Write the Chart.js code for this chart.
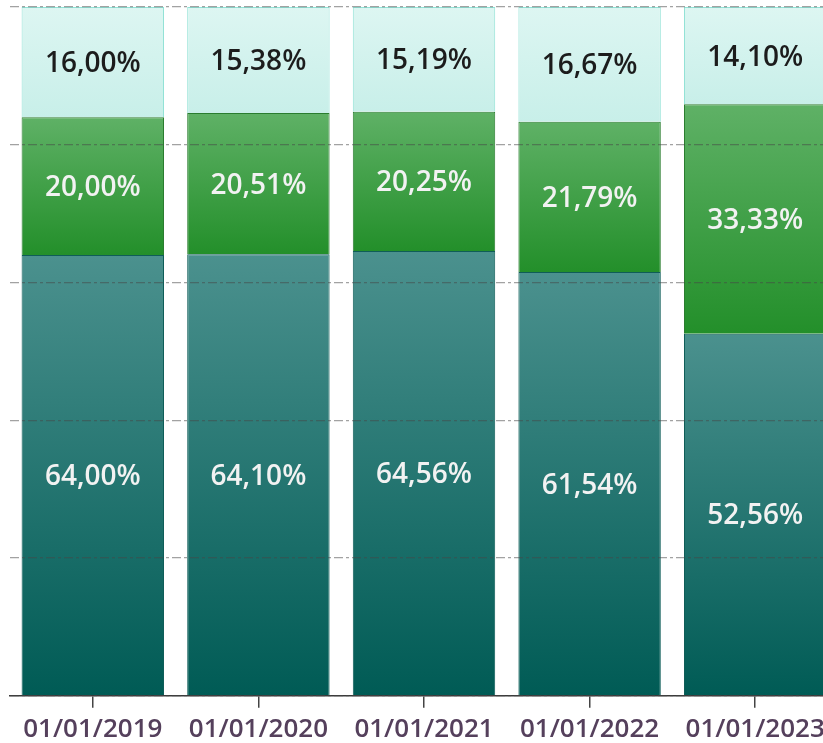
<!DOCTYPE html>
<html>
<head>
<meta charset="utf-8">
<script src="https://cdn.jsdelivr.net/npm/chart.js@4"></script>
<style>
  html, body { margin: 0; padding: 0; background: #fff; overflow: hidden; }
  #wrap { width: 838px; height: 751px; position: relative; }
</style>
</head>
<body>
<div id="wrap"><canvas id="myChart"></canvas></div>
<script>
// datos
const fechas = ['01/01/2019', '01/01/2020', '01/01/2021', '01/01/2022', '01/01/2023']
const serieBase = [64.00, 64.10, 64.56, 61.54, 52.56]
const serieMedia = [20.00, 20.51, 20.25, 21.79, 33.33]
const serieAlta = [16.00, 15.38, 15.19, 16.67, 14.10]
const series = [serieBase, serieMedia, serieAlta]

// colores de cada tramo: arriba / abajo
const colores = [
    { top: '#4b918e', bottom: '#005b55', border: '#0f5d58', text: '#f2f2f2' },
    { top: '#5fb166', bottom: '#238f2a', border: '#2a7d2f', text: '#f2f2f2' },
    { top: '#ddf6f2', bottom: '#c8efe9', border: '#92e2d6', text: '#1c1c1c' }
]

function gradiente(ctx) {
    const col = colores[ctx.datasetIndex]
    const chart = ctx.chart
    if (ctx.type !== 'data' || !chart.chartArea) return col.top
    let base = 0
    for (let k = 0; k < ctx.datasetIndex; k++) base += series[k][ctx.dataIndex]
    const tope = base + series[ctx.datasetIndex][ctx.dataIndex]
    const y0 = chart.scales.y.getPixelForValue(tope)
    const y1 = chart.scales.y.getPixelForValue(base)
    const g = chart.ctx.createLinearGradient(0, y0, 0, y1)
    g.addColorStop(0, col.top)
    g.addColorStop(1, col.bottom)
    return g
}

// etiquetas dentro de cada tramo
const etiquetas = {
    id: 'etiquetas',
    afterDraw(chart) {
        const c = chart.ctx
        c.save()
        c.font = '600 28px "Open Sans"'
        c.textAlign = 'center'
        c.textBaseline = 'middle'
        chart.data.datasets.forEach((ds, i) => {
            chart.getDatasetMeta(i).data.forEach((bar, j) => {
                const y = (bar.y + bar.base) / 2
                c.fillStyle = colores[i].text
                c.fillText(series[i][j].toFixed(2).replace('.', ',') + '%', bar.x, y + 2)
            })
        })
        c.restore()
    }
}

const datasets = series.map((s, i) => ({
    label: 'serie' + (i + 1),
    data: s,
    backgroundColor: gradiente,
    borderColor: colores[i].border,
    borderWidth: 1,
    barPercentage: 0.86,
    categoryPercentage: 1
}))

var ctx = document.getElementById('myChart')
var myChart = new Chart(ctx, {
    type: 'bar',
    data: { labels: fechas, datasets: datasets },
    plugins: [etiquetas],
    options: {
        responsive: true,
        maintainAspectRatio: false,
        animation: false,
        layout: { padding: { left: 10, top: 7, right: 0, bottom: 0 } },
        plugins: { legend: { display: false }, tooltip: { enabled: false } },
        scales: {
            x: {
                stacked: true,
                z: 1,
                border: { display: true, color: '#3a3a3a', width: 1.5, z: 1 },
                grid: { offset: false, drawOnChartArea: false, drawTicks: true, tickLength: 12, color: '#444', lineWidth: 1.5, z: 1 },
                ticks: { color: '#55405c', font: { family: 'Open Sans', size: 26, weight: '600' }, padding: 6, maxRotation: 0 }
            },
            y: {
                stacked: true,
                min: 0,
                max: 100,
                z: 1,
                border: { display: false, dash: [9, 3, 3, 3] },
                grid: { color: 'rgba(70,70,70,0.5)', lineWidth: 1.2, drawTicks: false, z: 1 },
                ticks: { display: false, stepSize: 20 }
            }
        }
    }
})
</script>
</body>
</html>
